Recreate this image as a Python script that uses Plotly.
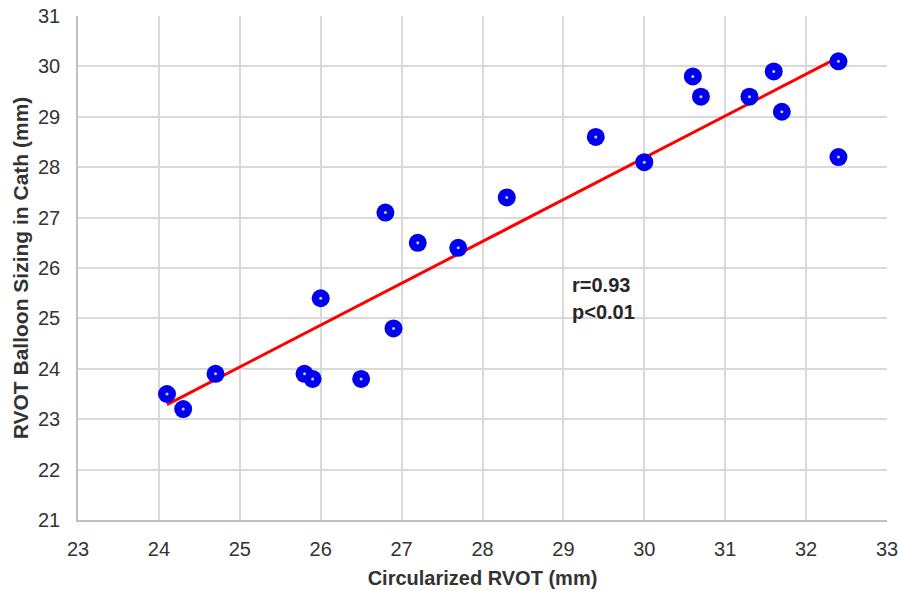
import numpy as np
import plotly.graph_objects as go

circ_rvot = [24.1, 24.3, 24.7, 25.8, 25.9, 26.0, 26.5, 26.8, 26.9, 27.2, 27.7,
             28.3, 29.4, 30.0, 30.6, 30.7, 31.3, 31.6, 31.7, 32.4, 32.4]
balloon = [23.5, 23.2, 23.9, 23.9, 23.8, 25.4, 23.8, 27.1, 24.8, 26.5, 26.4,
           27.4, 28.6, 28.1, 29.8, 29.4, 29.4, 29.9, 29.1, 30.1, 28.2]
x_ticks = list(range(23, 34))
y_ticks = list(range(21, 32))
stats_lines = ["r=0.93", "p<0.01"]

slope, intercept = np.polyfit(circ_rvot, balloon, 1)
x_fit = [min(circ_rvot), max(circ_rvot)]
y_fit = [slope * v + intercept for v in x_fit]

fig = go.Figure()
fig.add_trace(go.Scatter(x=x_fit, y=y_fit, mode="lines",
                         line=dict(color="#ff0000", width=3), hoverinfo="skip"))
fig.add_trace(go.Scatter(x=circ_rvot, y=balloon, mode="markers",
                         marker=dict(color="#0000ee", size=18, line=dict(width=0))))
fig.add_trace(go.Scatter(x=circ_rvot, y=balloon, mode="markers",
                         marker=dict(color="#c8c8ff", size=3, line=dict(width=0)),
                         hoverinfo="skip"))

NARROW = "Liberation Sans Narrow, Arial Narrow, Liberation Sans, Arial"
BOLD = "Liberation Sans, Arial"
tickfont = dict(family=NARROW, size=20, color="#333333")

fig.update_layout(
    width=899, height=591,
    margin=dict(l=78, r=12, t=16, b=71),
    paper_bgcolor="white", plot_bgcolor="white",
    showlegend=False,
    xaxis=dict(range=[23, 33], tickvals=x_ticks, showgrid=True, gridcolor="#d9d9d9",
               gridwidth=1.5, showline=True, linecolor="#bfbfbf", linewidth=1.5,
               zeroline=False, ticks="outside", ticklen=10, tickcolor="rgba(0,0,0,0)",
               tickfont=tickfont, automargin=False, ticklabeloverflow="allow",
               title=dict(text="<b>Circularized RVOT (mm)</b>",
                          font=dict(family=BOLD, size=20, color="#333333"), standoff=12)),
    yaxis=dict(range=[21, 31], tickvals=y_ticks, showgrid=True, gridcolor="#d9d9d9",
               gridwidth=1.5, showline=True, linecolor="#bfbfbf", linewidth=1.5,
               zeroline=False, ticks="outside", ticklen=12, tickcolor="rgba(0,0,0,0)",
               tickfont=tickfont, automargin=False, ticklabeloverflow="allow",
               title=dict(text="<b>RVOT Balloon Sizing in Cath (mm)</b>",
                          font=dict(family=BOLD, size=21, color="#333333"), standoff=4)),
)
for line, yv in zip(stats_lines, [25.66, 25.12]):
    fig.add_annotation(x=29.08, y=yv, xref="x", yref="y", xanchor="left", yanchor="middle",
                       text="<b>" + line + "</b>", showarrow=False, align="left",
                       font=dict(family=BOLD, size=20, color="#262626"))

fig.write_html(
    "out.html",
    config={"displayModeBar": False},
    post_script="document.body.style.margin='0';document.documentElement.style.overflow='hidden';document.body.style.overflow='hidden';",
)
